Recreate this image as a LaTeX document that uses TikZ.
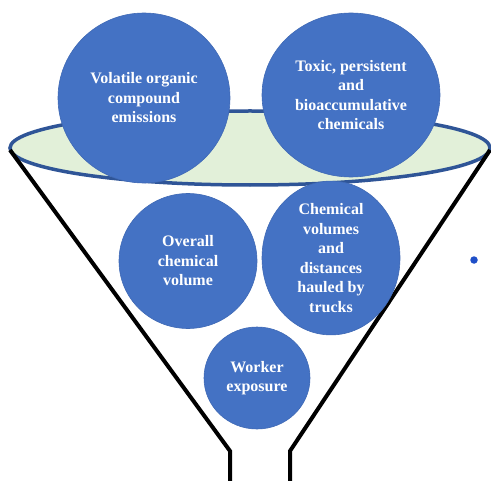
\documentclass[tikz,border=0pt]{standalone}
\usepackage{fontspec}
\setmainfont{Liberation Serif}
\definecolor{bubble}{HTML}{4472C4}
\definecolor{bubbleedge}{HTML}{3F69B5}
\definecolor{rimfill}{HTML}{E2F0D9}
\definecolor{rimline}{HTML}{2F5597}
\definecolor{dotblue}{HTML}{1F4FC8}
\tikzset{
  bubble/.style={ellipse, fill=bubble, draw=bubbleedge, line width=0.6bp, text=white,
    font=\bfseries\fontsize{16bp}{19.5bp}\selectfont, align=center, inner sep=0pt},
  funnelline/.style={line width=4bp, black, line join=miter},
}
\usetikzlibrary{shapes.geometric}
\begin{document}
\begin{tikzpicture}[x=1bp,y=-1bp]
\useasboundingbox (0,0) rectangle (491,481);
% rim
\draw[fill=rimfill, draw=rimline, line width=3.5bp] (250,148) ellipse [x radius=240, y radius=37];
% funnel sides
\coordinate (ltop) at (10,150);
\coordinate (lneck) at (230,451);
\coordinate (lbot) at (230,483);
\coordinate (rtop) at (490,150);
\coordinate (rneck) at (290,451);
\coordinate (rbot) at (290,483);
\draw[funnelline] (ltop) -- (lneck) -- (lbot);
\draw[funnelline] (rtop) -- (rneck) -- (rbot);
% bubbles
\node[bubble, minimum width=172bp, minimum height=170bp] (voc) at (144,98)
  {Volatile organic\\compound\\emissions};
\node[bubble, minimum width=178bp, minimum height=164bp] (pbt) at (351,95)
  {Toxic, persistent\\and\\bioaccumulative\\chemicals};
\node[bubble, minimum width=138bp, minimum height=135bp] (vol) at (188,261)
  {Overall\\chemical\\volume};
\node[bubble, minimum width=138bp, minimum height=137bp] (truck) at (331,258)
  {Chemical\\volumes\\and\\distances\\hauled by\\trucks};
\node[bubble, minimum width=106bp, minimum height=102bp] (work) at (257,378)
  {Worker\\exposure};
% bullet dot
\node[circle, fill=dotblue, inner sep=0pt, minimum size=7.5bp] (dot) at (474,260) {};
\end{tikzpicture}
\end{document}
